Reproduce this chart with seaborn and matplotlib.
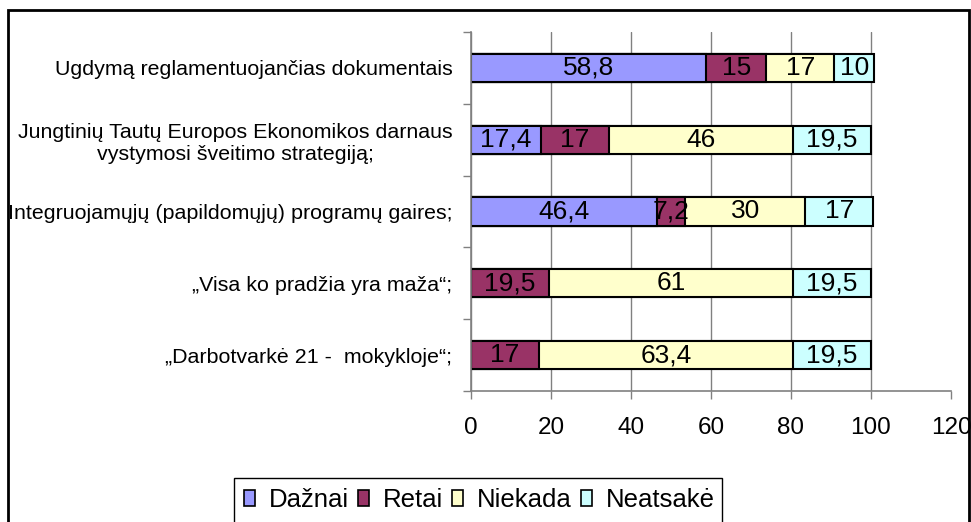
import numpy as np
import pandas as pd
import matplotlib
matplotlib.use("Agg")
import matplotlib.pyplot as plt
from matplotlib.patches import Rectangle, Patch
import seaborn as sns

categories = [
    "Ugdymą reglamentuojančias dokumentais",
    "Jungtinių Tautų Europos Ekonomikos darnaus\nvystymosi šveitimo strategiją;",
    "Integruojamųjų (papildomųjų) programų gaires;",
    "„Visa ko pradžia yra maža“;",
    "„Darbotvarkė 21 -  mokykloje“;",
]
series_names = ["Dažnai", "Retai", "Niekada", "Neatsakė"]
dazniai = [58.8, 17.4, 46.4, 0, 0]
retai = [15, 17, 7.2, 19.5, 17]
niekada = [17, 46, 30, 61, 63.4]
neatsake = [10, 19.5, 17, 19.5, 19.5]
colors = ["#9999FF", "#993366", "#FFFFCC", "#CCFFFF"]
x_ticks = [0, 20, 40, 60, 80, 100, 120]

sns.set_theme(style="white")
plt.rcParams["font.family"] = ["Liberation Sans", "DejaVu Sans"]
plt.rcParams["text.color"] = "black"
plt.rcParams["xtick.labelcolor"] = "black"
plt.rcParams["ytick.labelcolor"] = "black"

values = np.array([dazniai, retai, niekada, neatsake])
cum = np.cumsum(values, axis=0)

fig = plt.figure(figsize=(9.71, 5.22), dpi=100)
ax = fig.add_axes([471 / 971, 1 - 391 / 522, (951 - 471) / 971, (391 - 32) / 522])

# draw cumulative bars from the longest to the shortest so segments appear stacked
for i in range(3, -1, -1):
    df = pd.DataFrame({"cat": categories, "val": cum[i]})
    sns.barplot(data=df, x="val", y="cat", orient="h", color=colors[i],
                saturation=1, width=0.39, edgecolor="black", linewidth=1.5,
                ax=ax, order=categories)

def fmt(v):
    s = f"{v:g}"
    return s.replace(".", ",")

for i in range(4):
    for j in range(len(categories)):
        v = values[i, j]
        if v <= 0:
            continue
        left = cum[i, j] - v
        ax.text(left + v / 2, j, fmt(v), ha="center", va="center",
                fontsize=19, color="black")

ax.set_xlim(0, 120)
ax.set_ylim(len(categories) - 0.5, -0.5)
ax.set_xticks(x_ticks)
ax.set_xticklabels([str(t) for t in x_ticks], fontsize=17.5, color="black")
ax.set_xlabel("")
ax.set_ylabel("")
ax.set_yticks(range(len(categories)))
ax.set_yticklabels(categories, fontsize=15.4, multialignment="center", color="black")
ax.set_yticks(np.arange(-0.5, len(categories), 1), minor=True)
ax.tick_params(axis="y", which="major", length=0, pad=13.5)
ax.tick_params(axis="y", which="minor", length=6, color="#808080", width=1, left=True)
ax.tick_params(axis="x", which="major", length=6, color="#808080", width=1, bottom=True, pad=12.5)

ax.grid(axis="x", color="#808080", linewidth=1)
ax.set_axisbelow(True)
xgl = ax.get_xgridlines()
xgl[-1].set_visible(False)
for s in ["top", "right"]:
    ax.spines[s].set_visible(False)
for s in ["left", "bottom"]:
    ax.spines[s].set_color("#808080")
    ax.spines[s].set_linewidth(1.2)

# outer chart frame (bottom edge lies outside the image)
fig.add_artist(Rectangle((8 / 971, -0.2), (969 - 8) / 971, 0.2 + 1 - 10 / 522,
                         transform=fig.transFigure, fill=False,
                         edgecolor="black", linewidth=2, clip_on=False))

# legend
handles = [Patch(facecolor=c, edgecolor="black", linewidth=1.2) for c in colors]
leg = fig.legend(handles, series_names, loc="center left",
                 bbox_to_anchor=(231 / 971, 1 - 500 / 522), ncol=4, frameon=False,
                 fontsize=18.5, handlelength=0.42, handleheight=0.6,
                 handletextpad=0.55, columnspacing=0.35, borderpad=0)
fig.add_artist(Rectangle((234 / 971, -0.2), (722 - 234) / 971, 0.2 + 1 - 478 / 522,
                         transform=fig.transFigure, fill=False,
                         edgecolor="black", linewidth=1, clip_on=False))

fig.savefig("out.png", dpi=100)
